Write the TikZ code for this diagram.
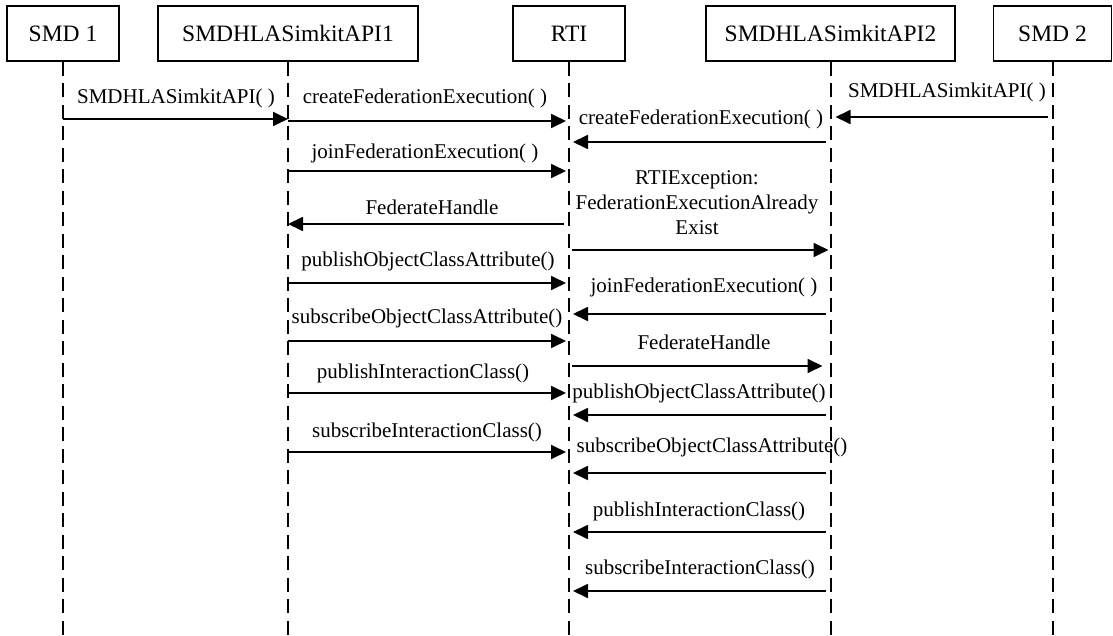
\documentclass[tikz,border=0pt]{standalone}
\usepackage{fontspec}
\setmainfont{Liberation Serif}
\usetikzlibrary{arrows.meta}
\begin{document}
\begin{tikzpicture}[x=1pt,y=-1pt,
  box/.style={draw, line width=1.6pt, minimum height=55pt, inner sep=0pt, font=\fontsize{23.5}{28}\selectfont},
  life/.style={line width=2pt, dash pattern=on 14pt off 7.5pt},
  msg/.style={line width=1.8pt, -{Triangle[length=15pt,width=14pt]}},
  lbl/.style={inner sep=0pt, font=\fontsize{21}{25}\selectfont, align=center}]
\useasboundingbox (0,0) rectangle (1113,636);
% participants
\node[box, minimum width=112pt] (smd1) at (63,33.5) {SMD 1};
\node[box, minimum width=260pt] (api1) at (288,33.5) {SMDHLASimkitAPI1};
\node[box, minimum width=112pt] (rti)  at (569,33.5) {RTI};
\node[box, minimum width=249pt] (api2) at (830.5,33.5) {SMDHLASimkitAPI2};
\node[box, minimum width=118pt] (smd2) at (1052.5,33.5) {SMD 2};
% lifelines
\foreach \p in {smd1,api1,rti,api2,smd2}
  \draw[life] (\p.south) -- (\p.south |- 0,636);
% messages
\draw[msg] (smd1.south |- 0,119) -- (api1.south |- 0,119);
\node[lbl] (l1) at (176,98) {SMDHLASimkitAPI( )};
\draw[msg, shorten >=3pt] (api1.south |- 0,121) -- (rti.south |- 0,121);
\node[lbl] (l2) at (425,98) {createFederationExecution( )};
\draw[msg, shorten <=5pt, shorten >=5pt] (smd2.south |- 0,117) -- (api2.south |- 0,117);
\node[lbl] (l3) at (947,92) {SMDHLASimkitAPI( )};
\draw[msg, shorten <=5pt, shorten >=4pt] (api2.south |- 0,142) -- (rti.south |- 0,142);
\node[lbl] (l4) at (701,119) {createFederationExecution( )};
\draw[msg, shorten >=3pt] (api1.south |- 0,171) -- (rti.south |- 0,171);
\node[lbl] (l5) at (425,153) {joinFederationExecution( )};
\draw[msg, shorten <=5pt] (rti.south |- 0,224) -- (api1.south |- 0,224);
\node[lbl] (l6) at (432,207) {FederateHandle};
\draw[msg, shorten <=3pt, shorten >=2pt] (rti.south |- 0,250) -- (api2.south |- 0,250);
\node[lbl] (l7) at (697,203) {RTIException:\\FederationExecutionAlready\\Exist};
\draw[msg, shorten >=3pt] (api1.south |- 0,283) -- (rti.south |- 0,283);
\node[lbl] (l8) at (428,261) {publishObjectClassAttribute()};
\draw[msg, shorten <=5pt, shorten >=4pt] (api2.south |- 0,314) -- (rti.south |- 0,314);
\node[lbl] (l9) at (704,287) {joinFederationExecution( )};
\draw[msg, shorten >=3pt] (api1.south |- 0,341) -- (rti.south |- 0,341);
\node[lbl] (l10) at (427,318) {subscribeObjectClassAttribute()};
\draw[msg, shorten <=3pt, shorten >=8pt] (rti.south |- 0,366) -- (api2.south |- 0,366);
\node[lbl] (l11) at (704,342) {FederateHandle};
\draw[msg, shorten >=3pt] (api1.south |- 0,393) -- (rti.south |- 0,393);
\node[lbl] (l12) at (423,373) {publishInteractionClass()};
\draw[msg, shorten <=5pt, shorten >=4pt] (api2.south |- 0,415) -- (rti.south |- 0,415);
\node[lbl] (l13) at (699,393) {publishObjectClassAttribute()};
\draw[msg, shorten >=3pt] (api1.south |- 0,452) -- (rti.south |- 0,452);
\node[lbl] (l14) at (427,432) {subscribeInteractionClass()};
\draw[msg, shorten <=5pt, shorten >=4pt] (api2.south |- 0,473) -- (rti.south |- 0,473);
\node[lbl] (l15) at (712,447) {subscribeObjectClassAttribute()};
\draw[msg, shorten <=5pt, shorten >=4pt] (api2.south |- 0,532) -- (rti.south |- 0,532);
\node[lbl] (l16) at (699,511) {publishInteractionClass()};
\draw[msg, shorten <=5pt, shorten >=4pt] (api2.south |- 0,591) -- (rti.south |- 0,591);
\node[lbl] (l17) at (700,569) {subscribeInteractionClass()};
\end{tikzpicture}
\end{document}
